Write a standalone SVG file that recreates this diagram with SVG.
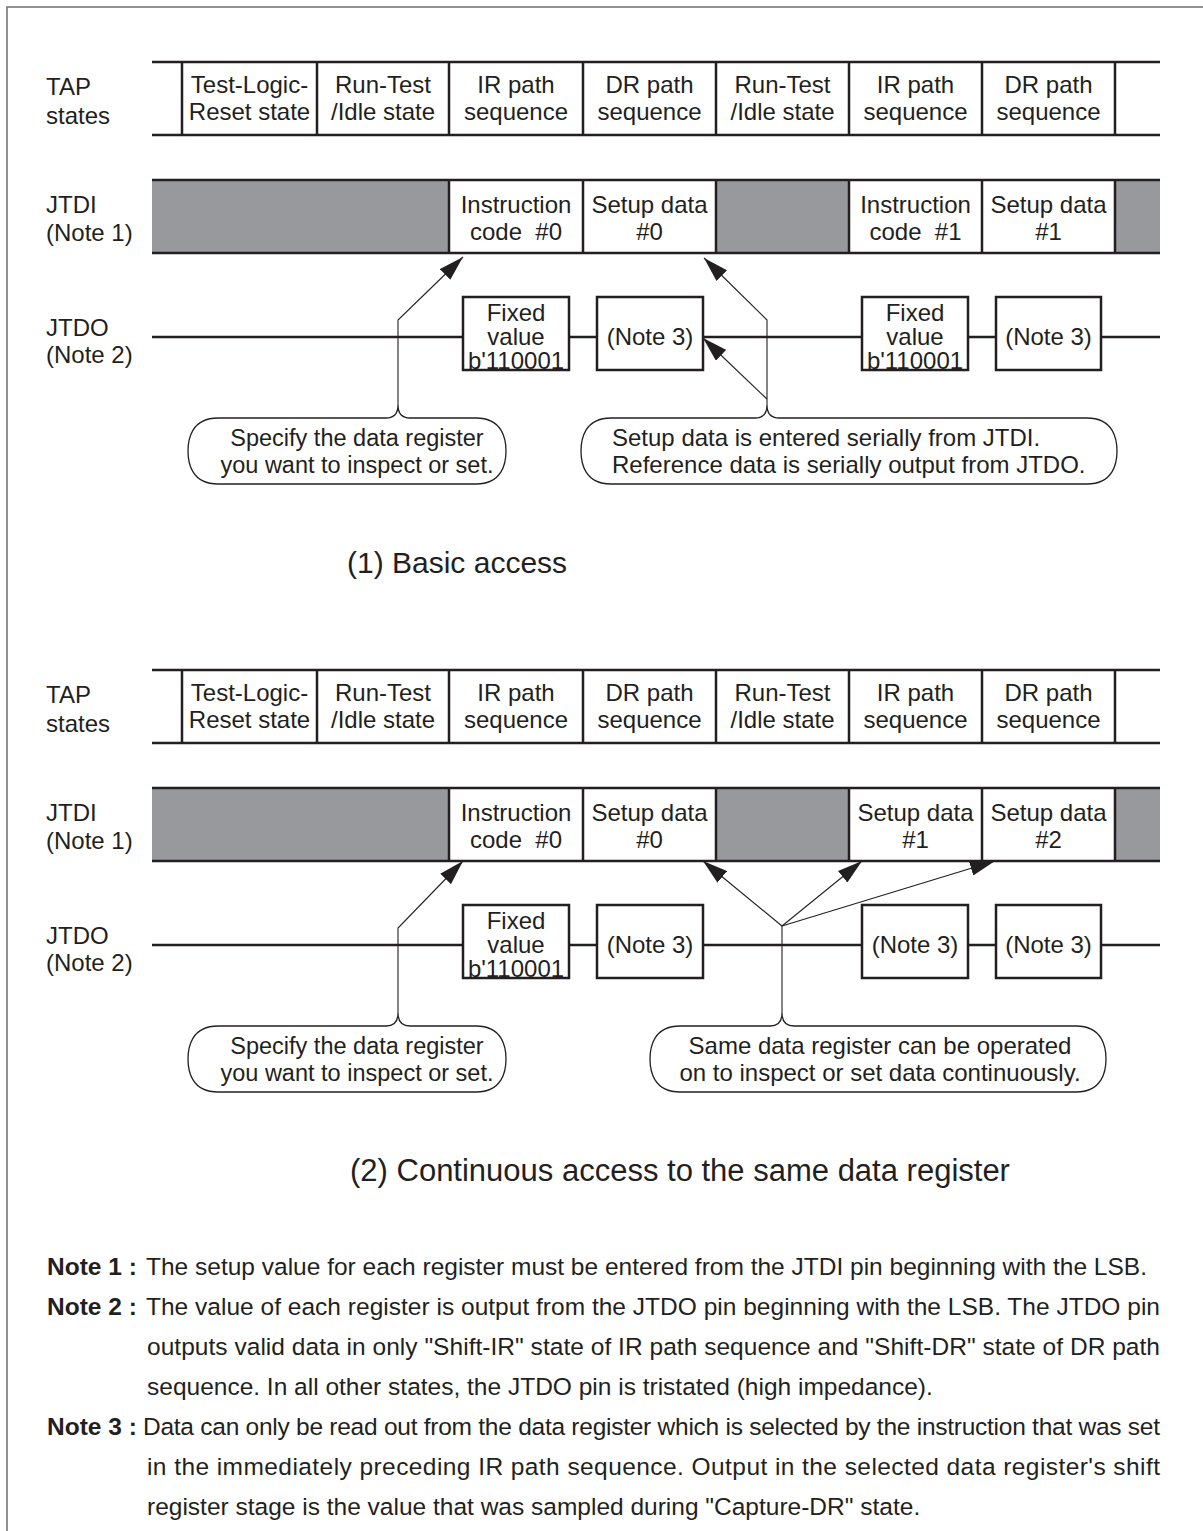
<svg xmlns="http://www.w3.org/2000/svg" width="1203" height="1531" viewBox="0 0 1203 1531">
<defs>
<style>
.t{font-family:"Liberation Sans",Arial,sans-serif;font-size:24px;fill:#231f20}
.s{font-size:23.5px}
.c{text-anchor:middle}
.pre{white-space:pre}
.title{font-family:"Liberation Sans",Arial,sans-serif;font-size:30px;fill:#231f20}
.n{font-family:"Liberation Sans",Arial,sans-serif;font-size:24.5px;fill:#231f20}
.nb{font-weight:bold}
.row{stroke:#231f20;stroke-width:2.5;fill:none}
.gray{fill:#98999c}
.box{stroke:#231f20;stroke-width:2.5;fill:#fff}
.bub{stroke:#231f20;stroke-width:1.3;fill:#fff}
.con{stroke:#231f20;stroke-width:1.1;fill:none}
</style>
<marker id="ah" viewBox="0 0 25 15" refX="25" refY="7.5" markerWidth="25" markerHeight="15" markerUnits="userSpaceOnUse" orient="auto">
<path d="M0,0 L25,7.5 L0,15 z" fill="#231f20"/>
</marker>
</defs>
<rect width="1203" height="1531" fill="#fff"/>
<path d="M7,1531 L7,7 L1203,7" stroke="#6d6e70" stroke-width="1.5" fill="none"/>

<!-- ========== Section 1 ========== -->
<g id="labels1">
<text class="t" x="46" y="95">TAP</text>
<text class="t" x="46" y="124">states</text>
<text class="t" x="46" y="213">JTDI</text>
<text class="t" x="46" y="241">(Note 1)</text>
<text class="t" x="46" y="336">JTDO</text>
<text class="t" x="46" y="363">(Note 2)</text>
</g>

<g id="tap1">
<path class="row" d="M152,62 H1160 M152,135 H1160 M182,62 V135 M317,62 V135 M449,62 V135 M583,62 V135 M716,62 V135 M849,62 V135 M982,62 V135 M1115,62 V135"/>
<text class="t c" x="249.5" y="93">Test-Logic-</text><text class="t c" x="249.5" y="120">Reset state</text>
<text class="t c" x="383" y="93">Run-Test</text><text class="t c" x="383" y="120">/Idle state</text>
<text class="t c" x="516" y="93">IR path</text><text class="t c" x="516" y="120">sequence</text>
<text class="t c" x="649.5" y="93">DR path</text><text class="t c" x="649.5" y="120">sequence</text>
<text class="t c" x="782.5" y="93">Run-Test</text><text class="t c" x="782.5" y="120">/Idle state</text>
<text class="t c" x="915.5" y="93">IR path</text><text class="t c" x="915.5" y="120">sequence</text>
<text class="t c" x="1048.5" y="93">DR path</text><text class="t c" x="1048.5" y="120">sequence</text>
</g>

<g id="jtdi1">
<rect class="gray" x="152" y="180" width="297" height="73"/>
<rect class="gray" x="716" y="180" width="133" height="73"/>
<rect class="gray" x="1115" y="180" width="45" height="73"/>
<path class="row" d="M152,180 H1160 M152,253 H1160 M449,180 V253 M583,180 V253 M716,180 V253 M849,180 V253 M982,180 V253 M1115,180 V253"/>
<text class="t c" x="516" y="213">Instruction</text><text class="t c pre" x="516" y="240">code  #0</text>
<text class="t c" x="649.5" y="213">Setup data</text><text class="t c" x="649.5" y="240">#0</text>
<text class="t c" x="915.5" y="213">Instruction</text><text class="t c pre" x="915.5" y="240">code  #1</text>
<text class="t c" x="1048.5" y="213">Setup data</text><text class="t c" x="1048.5" y="240">#1</text>
</g>

<g id="jtdo1">
<path class="row" d="M152,337 H1160"/>
<rect class="box" x="463" y="297" width="106" height="73"/>
<text class="t c" x="516" y="321">Fixed</text><text class="t c" x="516" y="345">value</text><text class="t c" x="516" y="369">b'110001</text>
<rect class="box" x="597" y="297" width="106" height="73"/>
<text class="t c" x="650" y="345">(Note 3)</text>
<rect class="box" x="862" y="297" width="106" height="73"/>
<text class="t c" x="915" y="321">Fixed</text><text class="t c" x="915" y="345">value</text><text class="t c" x="915" y="369">b'110001</text>
<rect class="box" x="996" y="297" width="105" height="73"/>
<text class="t c" x="1048.5" y="345">(Note 3)</text>
</g>

<g id="bubble1a">
<path class="bub" d="M218,418 H386 Q398,418 398,405 Q398,418 410,418 H476 C503,418 506,440 506,451 C506,462 503,484 476,484 H218 C191,484 188,462 188,451 C188,440 191,418 218,418 Z"/>
<text class="t s c" x="357" y="446">Specify the data register</text>
<text class="t s c" x="357" y="473">you want to inspect or set.</text>
</g>

<g id="bubble1b">
<path class="bub" d="M611,418 H755 Q767,418 767,405 Q767,418 779,418 H1087 C1114,418 1117,440 1117,451 C1117,462 1114,484 1087,484 H611 C584,484 581,462 581,451 C581,440 584,418 611,418 Z"/>
<text class="t" x="612" y="446">Setup data is entered serially from JTDI.</text>
<text class="t" x="612" y="473">Reference data is serially output from JTDO.</text>
</g>

<text id="title1" class="title" x="347" y="573">(1) Basic access</text>

<!-- ========== Section 2 ========== -->
<g id="labels2">
<text class="t" x="46" y="703">TAP</text>
<text class="t" x="46" y="732">states</text>
<text class="t" x="46" y="821">JTDI</text>
<text class="t" x="46" y="849">(Note 1)</text>
<text class="t" x="46" y="944">JTDO</text>
<text class="t" x="46" y="971">(Note 2)</text>
</g>

<g id="tap2">
<path class="row" d="M152,670 H1160 M152,743 H1160 M182,670 V743 M317,670 V743 M449,670 V743 M583,670 V743 M716,670 V743 M849,670 V743 M982,670 V743 M1115,670 V743"/>
<text class="t c" x="249.5" y="701">Test-Logic-</text><text class="t c" x="249.5" y="728">Reset state</text>
<text class="t c" x="383" y="701">Run-Test</text><text class="t c" x="383" y="728">/Idle state</text>
<text class="t c" x="516" y="701">IR path</text><text class="t c" x="516" y="728">sequence</text>
<text class="t c" x="649.5" y="701">DR path</text><text class="t c" x="649.5" y="728">sequence</text>
<text class="t c" x="782.5" y="701">Run-Test</text><text class="t c" x="782.5" y="728">/Idle state</text>
<text class="t c" x="915.5" y="701">IR path</text><text class="t c" x="915.5" y="728">sequence</text>
<text class="t c" x="1048.5" y="701">DR path</text><text class="t c" x="1048.5" y="728">sequence</text>
</g>

<g id="jtdi2">
<rect class="gray" x="152" y="788" width="297" height="73"/>
<rect class="gray" x="716" y="788" width="133" height="73"/>
<rect class="gray" x="1115" y="788" width="45" height="73"/>
<path class="row" d="M152,788 H1160 M152,861 H1160 M449,788 V861 M583,788 V861 M716,788 V861 M849,788 V861 M982,788 V861 M1115,788 V861"/>
<text class="t c" x="516" y="821">Instruction</text><text class="t c pre" x="516" y="848">code  #0</text>
<text class="t c" x="649.5" y="821">Setup data</text><text class="t c" x="649.5" y="848">#0</text>
<text class="t c" x="915.5" y="821">Setup data</text><text class="t c" x="915.5" y="848">#1</text>
<text class="t c" x="1048.5" y="821">Setup data</text><text class="t c" x="1048.5" y="848">#2</text>
</g>

<g id="jtdo2">
<path class="row" d="M152,945 H1160"/>
<rect class="box" x="463" y="905" width="106" height="73"/>
<text class="t c" x="516" y="929">Fixed</text><text class="t c" x="516" y="953">value</text><text class="t c" x="516" y="977">b'110001</text>
<rect class="box" x="597" y="905" width="106" height="73"/>
<text class="t c" x="650" y="953">(Note 3)</text>
<rect class="box" x="862" y="905" width="106" height="73"/>
<text class="t c" x="915" y="953">(Note 3)</text>
<rect class="box" x="996" y="905" width="105" height="73"/>
<text class="t c" x="1048.5" y="953">(Note 3)</text>
</g>

<g id="bubble2a">
<path class="bub" d="M218,1026 H386 Q398,1026 398,1013 Q398,1026 410,1026 H476 C503,1026 506,1048 506,1059 C506,1070 503,1092 476,1092 H218 C191,1092 188,1070 188,1059 C188,1048 191,1026 218,1026 Z"/>
<text class="t s c" x="357" y="1054">Specify the data register</text>
<text class="t s c" x="357" y="1081">you want to inspect or set.</text>
</g>

<g id="bubble2b">
<path class="bub" d="M680,1026 H770 Q782,1026 782,1013 Q782,1026 794,1026 H1076 C1103,1026 1106,1048 1106,1059 C1106,1070 1103,1092 1076,1092 H680 C653,1092 650,1070 650,1059 C650,1048 653,1026 680,1026 Z"/>
<text class="t c" x="880" y="1054">Same data register can be operated</text>
<text class="t c" x="880" y="1081">on to inspect or set data continuously.</text>
</g>

<text id="title2" class="title" x="350" y="1181" style="font-size:31px">(2) Continuous access to the same data register</text>

<!-- ========== Connectors ========== -->
<g id="connectors">
<path class="con" d="M398,405 V320 L463,257" marker-end="url(#ah)"/>
<path class="con" d="M767,405 V320 L704,258" marker-end="url(#ah)"/>
<path class="con" d="M767,399 L703,338" marker-end="url(#ah)"/>
<path class="con" d="M398,1013 V928 L463,861" marker-end="url(#ah)"/>
<path class="con" d="M782,1013 V926"/>
<path class="con" d="M782,926 L703,861" marker-end="url(#ah)"/>
<path class="con" d="M782,926 L862,861" marker-end="url(#ah)"/>
<path class="con" d="M782,926 L995,861" marker-end="url(#ah)"/>
</g>

<!-- ========== Notes ========== -->
<g id="notes">
<text class="n nb" x="47" y="1275">Note 1 :</text>
<text class="n" x="146" y="1275">The setup value for each register must be entered from the JTDI pin beginning with the LSB.</text>
<text class="n nb" x="47" y="1315">Note 2 :</text>
<text class="n" x="146" y="1315" textLength="1014" lengthAdjust="spacing">The value of each register is output from the JTDO pin beginning with the LSB. The JTDO pin</text>
<text class="n" x="147" y="1355" textLength="1013" lengthAdjust="spacing">outputs valid data in only "Shift-IR" state of IR path sequence and "Shift-DR" state of DR path</text>
<text class="n" x="147" y="1395">sequence. In all other states, the JTDO pin is tristated (high impedance).</text>
<text class="n nb" x="47" y="1435">Note 3 :</text>
<text class="n" x="143" y="1435" textLength="1017" lengthAdjust="spacing">Data can only be read out from the data register which is selected by the instruction that was set</text>
<text class="n" x="147" y="1475" textLength="1013" lengthAdjust="spacing">in the immediately preceding IR path sequence. Output in the selected data register's shift</text>
<text class="n" x="147" y="1515">register stage is the value that was sampled during "Capture-DR" state.</text>
</g>
</svg>
